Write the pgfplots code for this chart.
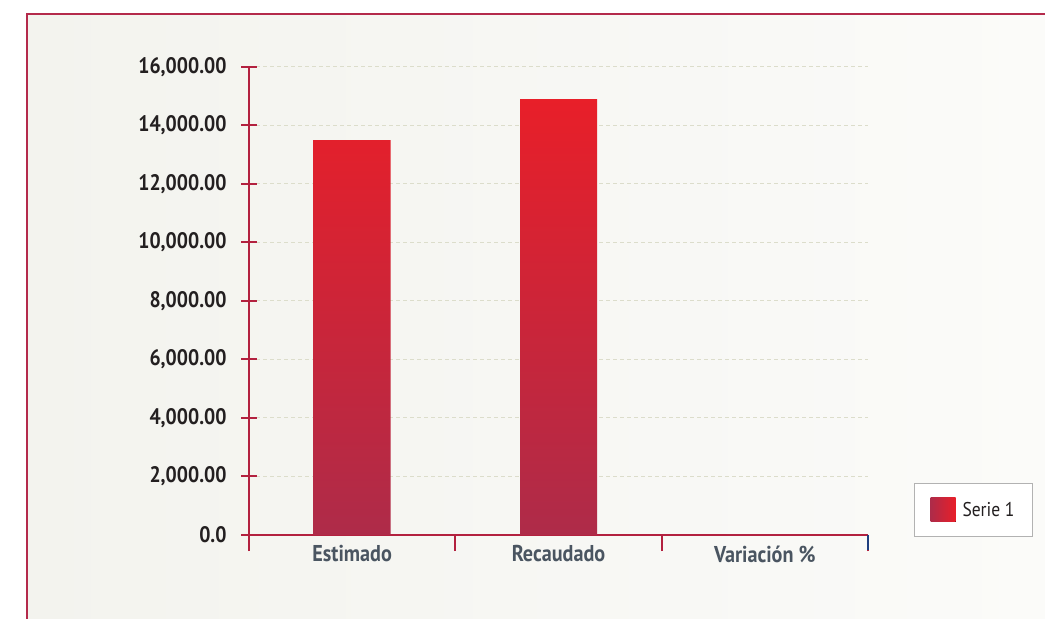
\documentclass[border=0pt]{standalone}
\usepackage{pgfplots}
\pgfplotsset{compat=1.18}
\usepackage{fontspec}
\setmainfont{PT Sans}[FakeStretch=0.88]
\definecolor{crim}{HTML}{B3213F}
\definecolor{framec}{HTML}{B42A4B}
\definecolor{bgc}{HTML}{F3F3EE}
\definecolor{bgr}{HTML}{FBFBF9}
\definecolor{gridc}{HTML}{DCDDCB}
\definecolor{xlab}{HTML}{4A5561}
\definecolor{ylab}{HTML}{231F20}
\definecolor{bartop}{HTML}{E81F29}
\definecolor{barbot}{HTML}{AE2B49}
\definecolor{tickblue}{HTML}{1F3F7F}
\begin{document}
\begin{tikzpicture}
\useasboundingbox (0bp,0bp) rectangle (1045bp,619bp);
\fill[white] (0bp,0bp) rectangle (1045bp,619bp);
\shade[left color=bgc, right color=bgr] (27bp,0bp) rectangle (1045bp,605bp);
\draw[framec, line width=2.5bp] (27bp,0bp) -- (27bp,605bp) -- (1045bp,605bp);
\begin{axis}[
  at={(249bp,84bp)}, anchor=south west,
  scale only axis, width=619bp, height=468bp,
  xmin=-0.5, xmax=2.5, ymin=0, ymax=16000,
  axis lines*=left,
  axis line style={crim, line width=2bp},
  xtick align=outside, ytick align=center,
  every tick/.style={crim, line width=2bp},
  major tick length=16bp,
  scaled y ticks=false,
  xtick={-0.5,0.5,1.5,2.5},
  xticklabels={},
  extra x ticks={0,1,2},
  extra x tick labels={Estimado,Recaudado,Variación \%},
  extra x tick style={major tick length=0pt, tick style={draw=none}, grid=none,
    tick label style={font=\bfseries\fontsize{23}{27}\selectfont, text=xlab, yshift=-7bp}},
  ytick={0,2000,4000,6000,8000,10000,12000,14000,16000},
  yticklabels={0.0,{2,000.00},{4,000.00},{6,000.00},{8,000.00},{10,000.00},{12,000.00},{14,000.00},{16,000.00}},
  y tick label style={font=\bfseries\fontsize{22.5}{26}\selectfont, text=ylab, xshift=-11bp},
  ymajorgrids,
  major grid style={gridc, dash pattern=on 4bp off 3bp, line width=1bp},
  ybar, bar width=77bp,
  legend style={at={(1.2666,-0.004)}, anchor=south east, draw=gray!60, fill=white,
    line width=1bp, inner xsep=16bp, inner ysep=14.5bp, column sep=5bp,
    font=\fontsize{20}{24}\selectfont, text=ylab},
  legend image code/.code={\fill[left color=barbot, right color=bartop] (0bp,-12bp) rectangle (25bp,12bp);},
]
\addplot[draw=none, top color=bartop, bottom color=barbot] coordinates {(0,13500) (1,14900) (2,10)};
\addlegendentry{Serie 1}
\end{axis}
\draw[tickblue, line width=1.5bp] (868bp,84bp) -- (868bp,69bp);
\end{tikzpicture}
\end{document}
